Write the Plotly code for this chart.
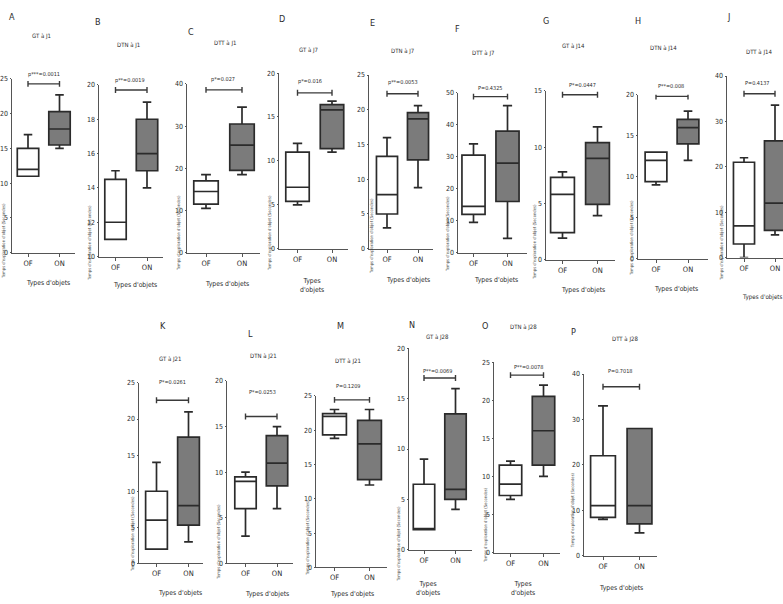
import plotly.graph_objects as go

W, H = 783, 604

# ---------------- data ----------------
letters = ["A", "B", "C", "D", "E", "F", "G", "H", "J", "K", "L", "M", "N", "O", "P"]
titles = ["GT à J1", "DTN à J1", "DTT à J1", "GT à J7", "DTN à J7", "DTT à J7",
          "GT à J14", "DTN à J14", "DTT à J14", "GT à J21", "DTN à J21", "DTT à J21",
          "GT à J28", "DTN à J28", "DTT à J28"]
pvals = ["p***=0.0011", "p**=0.0019", "p*=0.027", "p*=0.016", "p**=0.0053", "P=0.4325",
         "P*=0.0447", "P**=0.008", "P=0.4137", "P*=0.0261", "P*=0.0253", "P=0.1209",
         "P**=0.0069", "P**=0.0078", "P=0.7018"]
categories = ["OF", "ON"]

of_min = [11, 11, 10.5, 5, 3, 9.5, 1.9, 9, 0, 2, 3, 18.8, 2, 7, 8]
of_q1 = [11, 11, 11.5, 5.4, 5, 12, 2.4, 9.4, 3, 2, 6, 19.3, 2, 7.5, 8.4]
of_med = [12, 12, 14.5, 7, 7.8, 14.5, 5.8, 12, 7, 6, 9, 22, 2, 9, 11]
of_q3 = [15, 14.5, 17, 11, 13.3, 30.5, 7.3, 13, 21, 10, 9.5, 22.4, 6.5, 11.5, 22]
of_max = [17, 15, 18.5, 12, 16, 34, 7.8, 13, 22, 14, 10, 23, 9, 12, 33]

on_min = [15, 14, 18.5, 11, 8.8, 4.5, 3.9, 12, 5, 3, 6, 12, 4, 10, 5]
on_q1 = [15.5, 15, 19.5, 11.4, 12.8, 16, 4.9, 14, 6, 5.3, 8.5, 12.8, 5, 11.5, 7]
on_med = [17.8, 16, 25.5, 15.8, 18.7, 28, 9, 16, 12, 8, 11, 18, 6, 16, 11]
on_q3 = [20.3, 18, 30.5, 16.4, 19.6, 38, 10.4, 17, 25.7, 17.5, 14, 21.4, 13.5, 20.5, 28]
on_max = [22.7, 19, 34.5, 16.8, 20.6, 46, 11.8, 18, 33.6, 21, 15, 23, 16, 22, 28]

y_min = [0, 10, 0, 0, 0, 0, 0, 0, 0, 0, 0, 0, 0, 0, 0]
y_max = [25, 20, 40, 20, 25, 50, 15, 20, 40, 25, 20, 25, 20, 25, 40]
y_step = [5, 2, 10, 5, 5, 10, 5, 5, 10, 5, 5, 5, 5, 5, 10]
bracket_level = [24.3, 19.7, 38.6, 17.75, 22.3, 48.8, 14.65, 19.8, 36.1, 22.6, 16.1, 24.4, 17.06, 23.3, 37.2]

ytitle = "Temps d'exploration d'objet (Secondes)"
xtitle_one = "Types d'objets"
xtitle_two = "Types<br>d'objets"

# ---------------- layout specs (pixels) ----------------
# left axis x, OF centre, ON centre, right end, y of zero, y of top tick
frames = [
    (12, 28, 59.5, 75, 252, 76),
    (99, 115.5, 147, 163, 256, 82),
    (187, 206, 242, 260, 252, 81),
    (279, 297.5, 332, 348, 248, 70),
    (369, 387, 418, 433, 248, 72),
    (458, 473.5, 507.5, 527, 252, 90),
    (546, 562.5, 597.5, 615, 259, 88),
    (638, 656, 688, 708, 258, 92),
    (727, 744, 775, 783, 257, 73),
    (139, 156.5, 188.5, 203, 567, 384),
    (227, 245.5, 277, 293, 567, 382),
    (316, 334.5, 369.5, 387, 571, 397),
    (409, 424, 455.5, 472, 553, 349),
    (494, 510.5, 543.5, 560, 556, 363),
    (584, 603, 639.5, 657, 559, 375),
]
letter_pos = [(12, 13), (98, 18), (191, 28), (282, 15), (372, 19), (457, 25), (546, 17), (638, 17),
              (728, 13), (163, 326), (250, 334), (340, 326), (412, 325), (485, 326), (573, 332)]
title_pos = [(41, 32), (128, 42), (225, 40), (308, 47), (402, 48), (483, 50), (573, 43), (663, 45),
             (759, 49), (170, 360), (263, 357), (348, 362), (438, 337), (523, 327), (625, 340)]
pval_pos = [(44, 71), (130, 78), (223, 77), (310, 79), (403, 80), (490, 85), (582, 82), (671, 83),
            (757, 80), (172, 383), (262, 393), (348, 387), (438, 372), (528, 368), (620, 372)]
ytitle_pos = [(4, 240), (90, 242), (179, 232), (270, 232), (372, 235), (448, 233), (535, 241),
              (632, 237), (722, 242), (133, 537), (219, 545), (308, 541), (399, 547), (485, 528), (572, 513)]
xtitle_pos = [(48, 283, 1), (135, 285, 1), (227, 284, 1), (312, 285, 2), (408, 280, 1), (496, 280, 1),
              (583, 290, 1), (676, 289, 1), (762, 297, 1), (180, 597, 1), (267, 598, 1), (352, 598, 1),
              (428, 592, 2), (523, 592, 2), (621, 592, 1)]

FONT = "Liberation Sans Narrow, Arial Narrow, DejaVu Sans Condensed, Liberation Sans, sans-serif"
INK = "#2b2b2b"
AX = "#555555"

fig = go.Figure()
layout = dict(width=W, height=H, margin=dict(l=0, r=0, t=0, b=0),
              paper_bgcolor="white", plot_bgcolor="white", showlegend=False,
              font=dict(family=FONT, color=INK))
annotations = []

def px(x):
    return x / W

def py(y):
    return 1 - y / H

for i in range(len(letters)):
    n = i + 1
    xa, ya = ("x", "y") if n == 1 else (f"x{n}", f"y{n}")
    xk, yk = ("xaxis", "yaxis") if n == 1 else (f"xaxis{n}", f"yaxis{n}")
    left, c0, c1, right, y0, yt = frames[i]
    unit = c1 - c0
    lo = -(c0 - left) / unit
    hi = 1 + (right - c1) / unit
    layout[xk] = dict(domain=[px(left), px(right)], range=[lo, hi], anchor=ya,
                      tickvals=[0, 1], ticktext=categories, showline=True, linecolor=AX, linewidth=1,
                      ticks="outside", ticklen=3, tickcolor=AX, showgrid=False, zeroline=False,
                      tickfont=dict(size=7.5, family=FONT, color=INK), fixedrange=True)
    layout[yk] = dict(domain=[py(y0), py(yt)], range=[y_min[i], y_max[i]], anchor=xa,
                      tick0=y_min[i], dtick=y_step[i], showline=True, linecolor=AX, linewidth=1,
                      ticks="outside", ticklen=1.5, tickcolor=AX, showgrid=False, zeroline=False,
                      tickfont=dict(size=7, family=FONT, color=INK), fixedrange=True)
    bw = 0.68
    fig.add_trace(go.Box(x=[0], q1=[of_q1[i]], median=[of_med[i]], q3=[of_q3[i]],
                         lowerfence=[of_min[i]], upperfence=[of_max[i]], width=bw,
                         fillcolor="white", line=dict(color=INK, width=1.7), whiskerwidth=0.4,
                         boxpoints=False, xaxis=xa, yaxis=ya, hoverinfo="skip"))
    fig.add_trace(go.Box(x=[1], q1=[on_q1[i]], median=[on_med[i]], q3=[on_q3[i]],
                         lowerfence=[on_min[i]], upperfence=[on_max[i]], width=bw,
                         fillcolor="#7b7b7b", line=dict(color=INK, width=1.7), whiskerwidth=0.4,
                         boxpoints=False, xaxis=xa, yaxis=ya, hoverinfo="skip"))
    # significance bracket
    d = 3 * (y_max[i] - y_min[i]) / (y0 - yt)
    b = bracket_level[i]
    fig.add_trace(go.Scatter(x=[0, 0, None, 0, 1, None, 1, 1],
                             y=[b - d, b + d, None, b, b, None, b - d, b + d],
                             mode="lines", line=dict(color="#3a3a3a", width=1.4),
                             xaxis=xa, yaxis=ya, hoverinfo="skip", cliponaxis=False))
    # texts
    lx, ly = letter_pos[i]
    annotations.append(dict(text=letters[i], x=px(lx), y=py(ly), xref="paper", yref="paper",
                            showarrow=False, font=dict(size=9, color=INK), xanchor="center", yanchor="middle"))
    tx, ty = title_pos[i]
    annotations.append(dict(text=titles[i], x=px(tx), y=py(ty), xref="paper", yref="paper",
                            showarrow=False, font=dict(size=6, color=INK), xanchor="center", yanchor="middle"))
    qx, qy = pval_pos[i]
    annotations.append(dict(text=pvals[i], x=px(qx), y=py(qy), xref="paper", yref="paper",
                            showarrow=False, font=dict(size=5.5, color=INK), xanchor="center", yanchor="middle"))
    vx, vy = ytitle_pos[i]
    annotations.append(dict(text=ytitle, x=px(vx), y=py(vy), xref="paper", yref="paper", textangle=-90,
                            showarrow=False, font=dict(size=4.2, color="#444"), xanchor="center", yanchor="middle"))
    sx, sy, lines = xtitle_pos[i]
    annotations.append(dict(text=xtitle_two if lines == 2 else xtitle_one, x=px(sx), y=py(sy),
                            xref="paper", yref="paper", showarrow=False,
                            font=dict(size=6.8 if i != 8 else 6.2, color=INK), xanchor="center", yanchor="middle"))

layout["annotations"] = annotations
fig.update_layout(**layout)
fig.write_html("out.html", config={"displayModeBar": False, "staticPlot": True},
               post_script="document.body.style.margin='0';document.body.style.overflow='hidden';")
